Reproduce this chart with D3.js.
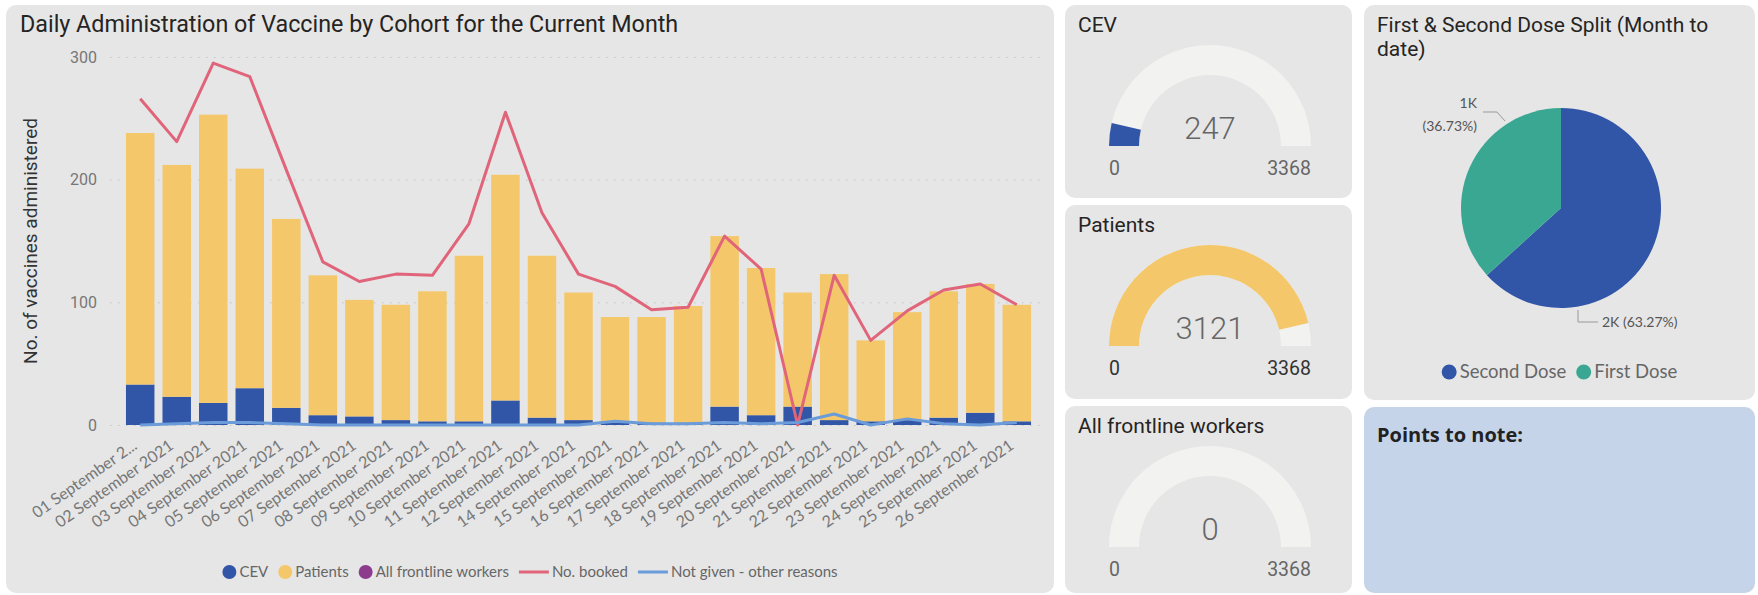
<!DOCTYPE html>
<html>
<head>
  <script src="https://d3js.org/d3.v7.min.js"></script>
  <style>
    body {
      margin: 0;
      background-color: #fff;
    }

    .panel-title {
      font-family: Roboto, sans-serif;
      fill: #252423;
    }

    .y-axis text {
      font-family: Roboto, sans-serif;
      font-size: 16px;
      fill: #777;
    }

    .x-axis text {
      font-family: Lato, sans-serif;
      font-size: 16px;
      fill: #777;
    }

    .legend text {
      font-family: Lato, sans-serif;
      fill: #666;
    }
  </style>
</head>
<body>
  <svg id="dash"></svg>
  <script>
    // Categories (13 September has no data)
    const days = ["01", "02", "03", "04", "05", "06", "07", "08", "09", "10", "11", "12", "14",
      "15", "16", "17", "18", "19", "20", "21", "22", "23", "24", "25", "26"]
      .map(d => d + " September 2021");
    const dayLabels = days.map((d, i) => i === 0 ? "01 September 2..." : d);

    // Series values
    const cevValues = [33, 23, 18, 30, 14, 8, 7, 4, 3, 3, 20, 6, 4, 2, 2, 2, 15, 8, 15, 4, 3, 4, 6, 10, 3];
    const patientValues = [205, 189, 235, 179, 154, 114, 95, 94, 106, 135, 184, 132, 104, 86, 86, 95, 139, 120, 93, 119, 66, 88, 103, 105, 95];
    const frontlineValues = [0, 0, 0, 0, 0, 0, 0, 0, 0, 0, 0, 0, 0, 0, 0, 0, 0, 0, 0, 0, 0, 0, 0, 0, 0];
    const bookedValues = [266, 231, 295, 284, 208, 133, 117, 123, 122, 164, 255, 173, 123, 113, 94, 96, 154, 127, 0, 122, 69, 93, 110, 115, 98];
    const notGivenValues = [0, 1, 2, 2, 1, 0, 0, 0, 0, 0, 0, 0, 0, 3, 1, 1, 2, 1, 2, 9, 0, 5, 1, 0, 2];
    const yTicks = [0, 100, 200, 300];

    // Gauges
    const gaugeNames = ["CEV", "Patients", "All frontline workers"];
    const gaugeValues = [247, 3121, 0];
    const gaugeMax = 3368;

    // Dose split
    const doseNames = ["Second Dose", "First Dose"];
    const doseValues = [2131, 1237];

    const colors = {
      cev: "#3256a7",
      patients: "#f4c86a",
      frontline: "#8d3b8d",
      booked: "#e0657a",
      notGiven: "#6b9bd8",
      first: "#39a792",
      gaugeBg: "#f2f2f0"
    };

    const svg = d3.select("#dash")
      .attr("width", 1758)
      .attr("height", 595);

    // Panels
    const panels = [
      { x: 6, y: 5, w: 1048, h: 588, fill: "#e6e6e6" },
      { x: 1065, y: 5, w: 287, h: 193, fill: "#e6e6e6" },
      { x: 1065, y: 205, w: 287, h: 194, fill: "#e6e6e6" },
      { x: 1065, y: 406, w: 287, h: 187, fill: "#e6e6e6" },
      { x: 1364, y: 5, w: 391, h: 395, fill: "#e6e6e6" },
      { x: 1364, y: 407, w: 391, h: 186, fill: "#c6d4ea" }
    ];
    svg.selectAll("rect.panel")
      .data(panels)
      .join("rect")
      .attr("class", "panel")
      .attr("x", d => d.x)
      .attr("y", d => d.y)
      .attr("width", d => d.w)
      .attr("height", d => d.h)
      .attr("rx", 10)
      .attr("fill", d => d.fill);

    // ---------- Main combo chart ----------
    svg.append("text")
      .attr("class", "panel-title")
      .attr("x", 20)
      .attr("y", 32)
      .style("font-size", "23.3px")
      .text("Daily Administration of Vaccine by Cohort for the Current Month");

    const xScale = d3.scaleBand()
      .domain(days)
      .range([115, 1042])
      .paddingInner(0.22)
      .paddingOuter(0.3);

    const yScale = d3.scaleLinear()
      .domain([0, 300])
      .range([425, 57]);

    const yAxis = svg.append("g")
      .attr("class", "y-axis")
      .attr("transform", "translate(110,0)")
      .call(d3.axisLeft(yScale).tickValues(yTicks).tickSize(-930).tickPadding(13));
    yAxis.select(".domain").remove();
    yAxis.selectAll(".tick line")
      .attr("stroke", "#c4c4c4")
      .attr("stroke-dasharray", "1.5,6.5");

    svg.append("text")
      .attr("transform", "translate(37,241) rotate(-90)")
      .attr("text-anchor", "middle")
      .style("font-family", "Roboto, sans-serif")
      .style("font-size", "19px")
      .style("fill", "#333")
      .text("No. of vaccines administered");

    const rows = days.map((d, i) => ({
      day: d,
      cev: cevValues[i],
      patients: patientValues[i],
      frontline: frontlineValues[i]
    }));
    const series = d3.stack().keys(["cev", "patients", "frontline"])(rows);

    svg.append("g")
      .selectAll("g")
      .data(series)
      .join("g")
      .attr("fill", d => colors[d.key])
      .selectAll("rect")
      .data(d => d)
      .join("rect")
      .attr("x", d => xScale(d.data.day))
      .attr("y", d => yScale(d[1]))
      .attr("width", xScale.bandwidth())
      .attr("height", d => yScale(d[0]) - yScale(d[1]));

    const xAxis = svg.append("g")
      .attr("class", "x-axis")
      .attr("transform", "translate(0,425)")
      .call(d3.axisBottom(xScale).tickSize(0).tickFormat((d, i) => dayLabels[i]));
    xAxis.select(".domain").remove();
    xAxis.selectAll("text")
      .attr("x", 0)
      .attr("y", 0)
      .attr("dy", 0)
      .attr("text-anchor", "end")
      .attr("transform", "translate(-2,23) rotate(-35)");

    const mid = i => xScale(days[i]) + xScale.bandwidth() / 2;

    const seriesLine = d3.line()
      .x((d, i) => mid(i))
      .y(d => yScale(d));

    svg.append("path")
      .datum(bookedValues)
      .attr("fill", "none")
      .attr("stroke", colors.booked)
      .attr("stroke-width", 3)
      .attr("stroke-linejoin", "round")
      .attr("d", seriesLine);

    svg.append("path")
      .datum(notGivenValues)
      .attr("fill", "none")
      .attr("stroke", colors.notGiven)
      .attr("stroke-width", 3)
      .attr("stroke-linejoin", "round")
      .attr("d", seriesLine);

    // Legend, centred on cx
    function drawLegend(items, cx, cy, fontSize, dotR) {
      const g = svg.append("g").attr("class", "legend");
      let cursor = 0;
      items.forEach(item => {
        const markW = item.type === "line" ? 30 : dotR * 2;
        if (item.type === "line") {
          g.append("line")
            .attr("x1", cursor).attr("x2", cursor + markW)
            .attr("y1", cy).attr("y2", cy)
            .attr("stroke", item.color)
            .attr("stroke-width", 3);
        } else {
          g.append("circle")
            .attr("cx", cursor + dotR)
            .attr("cy", cy)
            .attr("r", dotR)
            .attr("fill", item.color);
        }
        const t = g.append("text")
          .attr("x", cursor + markW + 3)
          .attr("y", cy)
          .attr("dy", "0.35em")
          .style("font-size", fontSize + "px")
          .text(item.name);
        cursor += markW + 3 + t.node().getComputedTextLength() + 10;
      });
      const width = cursor - 10;
      g.attr("transform", `translate(${cx - width / 2},0)`);
    }

    drawLegend([
      { name: "CEV", type: "dot", color: colors.cev },
      { name: "Patients", type: "dot", color: colors.patients },
      { name: "All frontline workers", type: "dot", color: colors.frontline },
      { name: "No. booked", type: "line", color: colors.booked },
      { name: "Not given - other reasons", type: "line", color: colors.notGiven }
    ], 530, 572, 15, 7);

    // ---------- Gauges ----------
    const gaugeTops = [5, 205, 406];
    const gaugeCx = 1210;
    const outerR = 101, innerR = 71;
    const angle = d3.scaleLinear().domain([0, gaugeMax]).range([-Math.PI / 2, Math.PI / 2]);
    const gaugeArc = d3.arc().innerRadius(innerR).outerRadius(outerR);
    const minMaxColors = ["#666", "#333", "#666"];

    gaugeNames.forEach((name, i) => {
      const top = gaugeTops[i];
      const cy = top + 141;
      svg.append("text")
        .attr("class", "panel-title")
        .attr("x", 1078)
        .attr("y", top + 27)
        .style("font-size", "21px")
        .text(name);

      const g = svg.append("g").attr("transform", `translate(${gaugeCx},${cy})`);
      g.append("path")
        .attr("fill", colors.gaugeBg)
        .attr("d", gaugeArc({ startAngle: -Math.PI / 2, endAngle: Math.PI / 2 }));
      g.append("path")
        .attr("fill", i === 1 ? colors.patients : colors.cev)
        .attr("d", gaugeArc({ startAngle: -Math.PI / 2, endAngle: angle(gaugeValues[i]) }));

      g.append("text")
        .attr("text-anchor", "middle")
        .attr("y", -7)
        .style("font-family", "Roboto, sans-serif")
        .style("font-weight", 300)
        .style("font-size", "31px")
        .style("fill", "#666")
        .text(gaugeValues[i]);

      g.append("text")
        .attr("x", -outerR)
        .attr("y", 29)
        .style("font-family", "Roboto, sans-serif")
        .style("font-size", "19.5px")
        .style("fill", minMaxColors[i])
        .text(0);
      g.append("text")
        .attr("x", outerR)
        .attr("y", 29)
        .attr("text-anchor", "end")
        .style("font-family", "Roboto, sans-serif")
        .style("font-size", "19.5px")
        .style("fill", minMaxColors[i])
        .text(gaugeMax);
    });

    // ---------- Pie ----------
    const pieTitle = svg.append("text")
      .attr("class", "panel-title")
      .attr("x", 1377)
      .attr("y", 32)
      .style("font-size", "21px");
    pieTitle.append("tspan").attr("x", 1377).text("First & Second Dose Split (Month to");
    pieTitle.append("tspan").attr("x", 1377).attr("dy", 24).text("date)");

    const pieCx = 1561, pieCy = 208, pieR = 100;
    const pieColors = [colors.cev, colors.first];
    const arcs = d3.pie().sort(null)(doseValues);
    const pieG = svg.append("g").attr("transform", `translate(${pieCx},${pieCy})`);
    pieG.selectAll("path")
      .data(arcs)
      .join("path")
      .attr("fill", (d, i) => pieColors[i])
      .attr("d", d3.arc().innerRadius(0).outerRadius(pieR));

    const total = d3.sum(doseValues);
    const kFmt = v => Math.round(v / 1000) + "K";
    const pctFmt = d3.format(".2%");

    // leader lines
    pieG.append("polyline")
      .attr("points", "17,102 17,114 37,114")
      .attr("fill", "none").attr("stroke", "#999").attr("stroke-width", 1);
    pieG.append("polyline")
      .attr("points", "-56,-87 -64,-96 -78,-96")
      .attr("fill", "none").attr("stroke", "#999").attr("stroke-width", 1);

    const labelStyle = sel => sel
      .style("font-family", "Lato, sans-serif")
      .style("font-size", "14px")
      .style("fill", "#555");

    pieG.append("text")
      .attr("x", 41).attr("y", 119)
      .call(labelStyle)
      .text(`${kFmt(doseValues[0])} (${pctFmt(doseValues[0] / total)})`);
    const firstLabel = pieG.append("text")
      .attr("text-anchor", "end")
      .call(labelStyle);
    firstLabel.append("tspan").attr("x", -84).attr("y", -100).text(kFmt(doseValues[1]));
    firstLabel.append("tspan").attr("x", -84).attr("y", -77).text(`(${pctFmt(doseValues[1] / total)})`);

    drawLegend(doseNames.map((n, i) => ({ name: n, type: "dot", color: pieColors[i] })),
      1559.5, 372, 18.5, 7.5);

    // ---------- Notes ----------
    svg.append("text")
      .attr("x", 1377)
      .attr("y", 442)
      .style("font-family", "'Open Sans', sans-serif")
      .style("font-weight", 700)
      .style("font-size", "20px")
      .style("fill", "#222")
      .text("Points to note:");
  </script>
</body>
</html>
